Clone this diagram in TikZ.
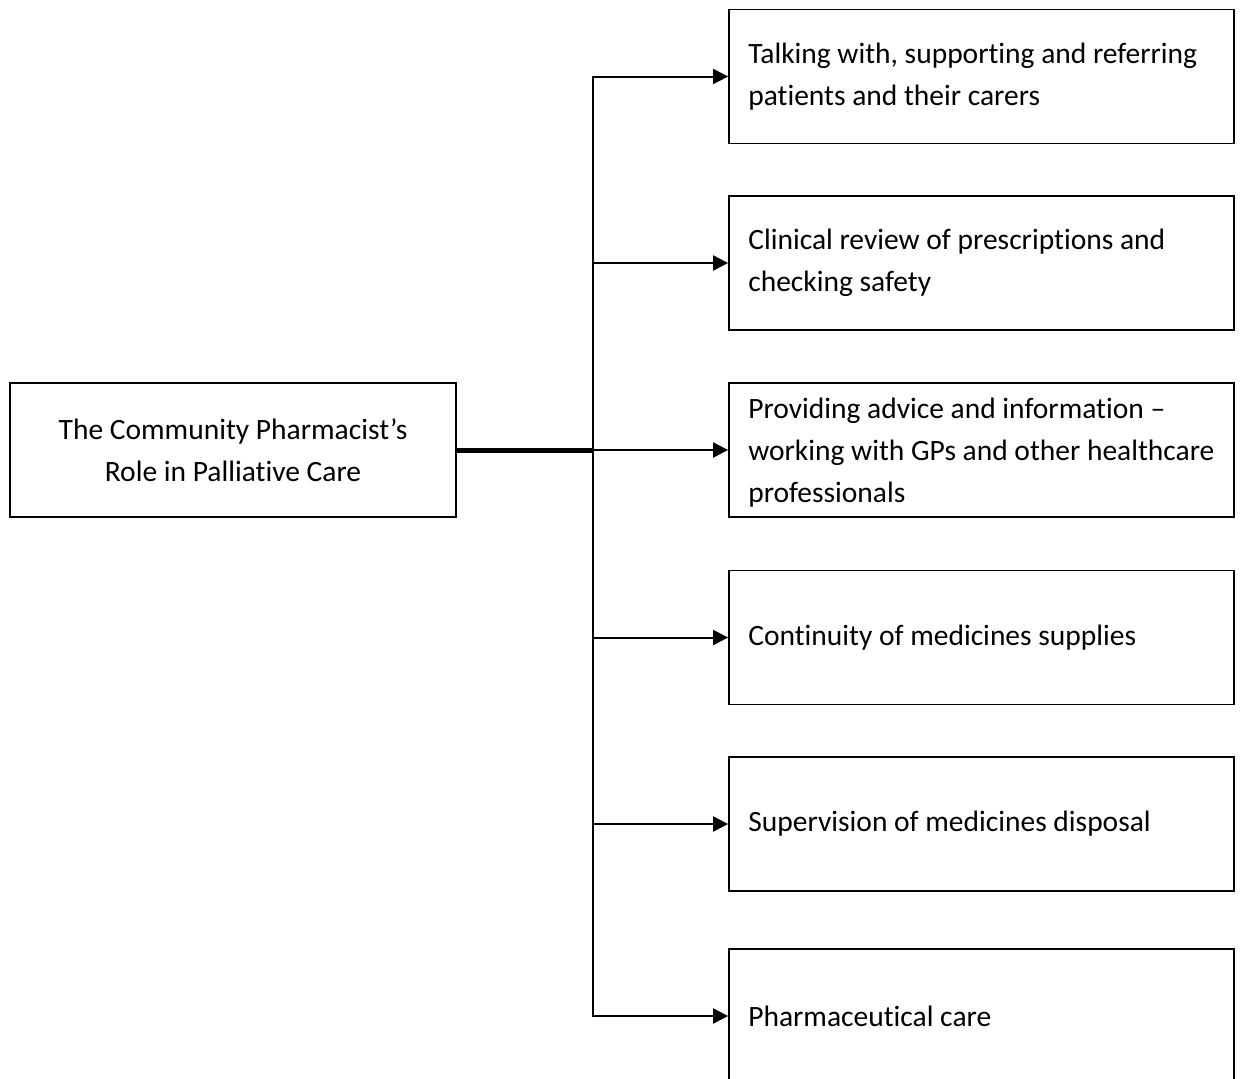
\documentclass[tikz,border=0pt]{standalone}
\usepackage{fontspec}
\setmainfont[Ligatures=NoCommon]{Carlito}
\usetikzlibrary{arrows.meta}

\tikzset{
  txt/.style={font=\fontsize{29.5}{42}\selectfont},
  mainbox/.style={draw, line width=1.8pt, minimum width=446pt, minimum height=134pt,
                  inner sep=0pt, align=center, txt},
  rolebox/.style={draw, line width=1.8pt, minimum width=505pt, minimum height=134pt, inner sep=0pt},
  roletext/.style={anchor=west, align=left, inner sep=0pt, txt},
  conn/.style={line width=2pt},
  arr/.style={conn, -{Triangle[length=15pt,width=15pt]}},
  thick link/.style={line width=5pt}
}

\begin{document}
\begin{tikzpicture}[x=1pt, y=-1pt]
  \useasboundingbox (0,0) rectangle (1243,1079);
  \clip (0,0) rectangle (1243,1079);
  \fill[white] (0,0) rectangle (1243,1079);

  % central topic
  \node[mainbox] (main) at (233,450) {The Community Pharmacist’s\\Role in Palliative Care};

  % the six roles
  \node[rolebox] (b1) at (981.5,76.5)  {};
  \node[rolebox] (b2) at (981.5,263)   {};
  \node[rolebox] (b3) at (981.5,450)   {};
  \node[rolebox] (b4) at (981.5,637.5) {};
  \node[rolebox] (b5) at (981.5,824)   {};
  \node[rolebox] (b6) at (981.5,1016)  {};

  \node[roletext] (t1) at ([xshift=20pt]b1.west) {Talking with, supporting and referring\\patients and their carers};
  \node[roletext] (t2) at ([xshift=20pt]b2.west) {Clinical review of prescriptions and\\checking safety};
  \node[roletext] (t3) at ([xshift=20pt,yshift=-3pt]b3.west) {Providing advice and information –\\working with GPs and other healthcare\\professionals};
  \node[roletext] (t4) at ([xshift=20pt]b4.west) {Continuity of medicines supplies};
  \node[roletext] (t5) at ([xshift=20pt]b5.west) {Supervision of medicines disposal};
  \node[roletext] (t6) at ([xshift=20pt]b6.west) {Pharmaceutical care};

  % branching connectors
  \coordinate (trunk) at (593,450);
  \draw[thick link] (main.east) -- (trunk);
  \draw[arr] (trunk |- b3.west) -- (trunk |- b1.west) -- (b1.west);
  \draw[arr] (trunk |- b2.west) -- (b2.west);
  \draw[arr] (trunk |- b3.west) -- (b3.west);
  \draw[arr] (trunk |- b4.west) -- (b4.west);
  \draw[arr] (trunk |- b5.west) -- (b5.west);
  \draw[arr] (trunk |- b3.west) -- (trunk |- b6.west) -- (b6.west);
\end{tikzpicture}
\end{document}
